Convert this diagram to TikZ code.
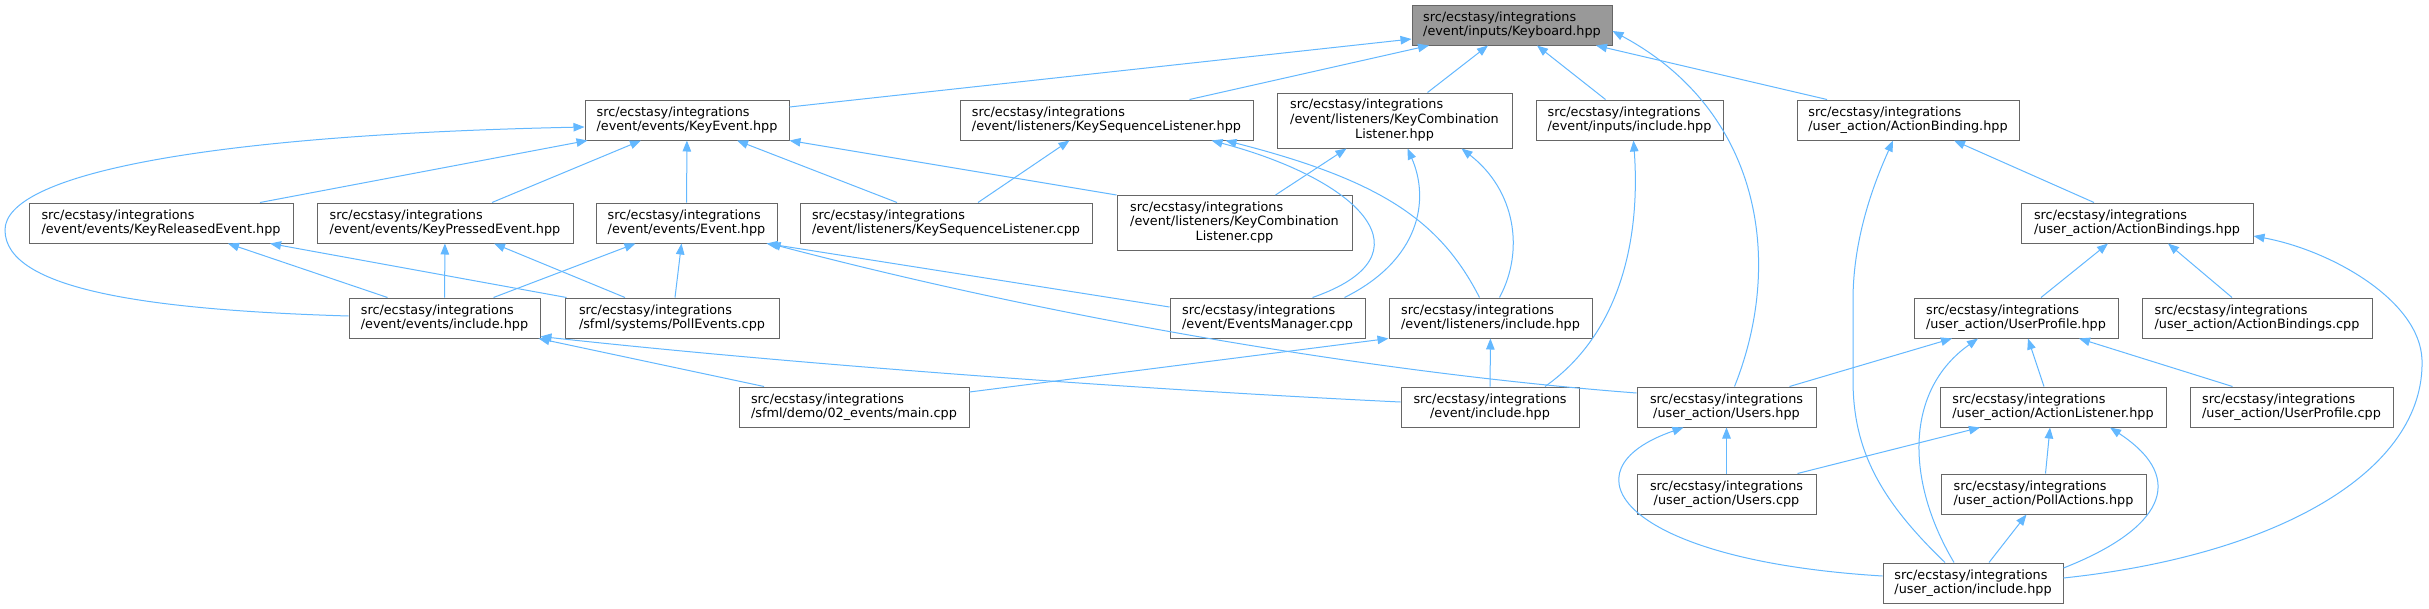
\documentclass[tikz,border=0pt]{standalone}
\usepackage{fontspec}
\setmainfont{DejaVu Sans}
\usetikzlibrary{arrows.meta}
\definecolor{boxline}{HTML}{666666}
\definecolor{kbfill}{HTML}{999999}
\definecolor{depblue}{HTML}{63B8FF}
\newcommand{\graphfont}{\fontsize{12.8}{14.6}\selectfont}
\newcommand{\lastc}[2]{\begin{tabular}{@{}l@{}}#1\\\multicolumn{1}{@{}c@{}}{#2}\end{tabular}}
\tikzset{
  file/.style={draw=boxline, fill=white, line width=1pt, minimum height=40pt,
    inner xsep=10pt, inner ysep=2pt, align=left, font=\graphfont},
  current/.style={file, fill=kbfill},
  tall/.style={minimum height=55pt},
  dep/.style={draw=depblue, line width=1pt, -{Triangle[length=11pt,width=8.5pt]}}
}
\begin{document}
\begin{tikzpicture}[x=1pt,y=-1pt]
\fill[white] (0,0) rectangle (2429,608);

\node[current, minimum width=200pt] (kbd) at (1512,25) {src/ecstasy/integrations\\/event/inputs/Keyboard.hpp};

\node[file, minimum width=204pt] (kevt) at (687,120) {src/ecstasy/integrations\\/event/events/KeyEvent.hpp};
\node[file, minimum width=293pt] (kseqh) at (1106.5,120) {src/ecstasy/integrations\\/event/listeners/KeySequenceListener.hpp};
\node[file, tall, minimum width=235pt] (kcombh) at (1394.5,120.5) {\lastc{src/ecstasy/integrations\\/event/listeners/KeyCombination}{Listener.hpp}};
\node[file, minimum width=187pt] (incin) at (1629.5,120) {src/ecstasy/integrations\\/event/inputs/include.hpp};
\node[file, minimum width=222pt] (abind) at (1908,120) {src/ecstasy/integrations\\/user\_action/ActionBinding.hpp};

\node[file, minimum width=264pt] (krel) at (161,223) {src/ecstasy/integrations\\/event/events/KeyReleasedEvent.hpp};
\node[file, minimum width=256pt] (kpress) at (445,223) {src/ecstasy/integrations\\/event/events/KeyPressedEvent.hpp};
\node[file, minimum width=181pt] (evt) at (686.5,223) {src/ecstasy/integrations\\/event/events/Event.hpp};
\node[file, minimum width=292pt] (kseqc) at (946,223) {src/ecstasy/integrations\\/event/listeners/KeySequenceListener.cpp};
\node[file, tall, minimum width=235pt] (kcombc) at (1234.5,223) {\lastc{src/ecstasy/integrations\\/event/listeners/KeyCombination}{Listener.cpp}};
\node[file, minimum width=232pt] (abinds) at (2137,223) {src/ecstasy/integrations\\/user\_action/ActionBindings.hpp};

\node[file, minimum width=191pt] (incev) at (444.5,318) {src/ecstasy/integrations\\/event/events/include.hpp};
\node[file, minimum width=214pt] (pollev) at (672,318) {src/ecstasy/integrations\\/sfml/systems/PollEvents.cpp};
\node[file, minimum width=195pt] (evmgr) at (1267.5,318) {src/ecstasy/integrations\\/event/EventsManager.cpp};
\node[file, minimum width=203pt] (incli) at (1490.5,318) {src/ecstasy/integrations\\/event/listeners/include.hpp};
\node[file, minimum width=204pt] (uprof) at (2016,318) {src/ecstasy/integrations\\/user\_action/UserProfile.hpp};
\node[file, minimum width=230pt] (abindc) at (2257,318) {src/ecstasy/integrations\\/user\_action/ActionBindings.cpp};

\node[file, minimum width=230pt] (demo) at (854,407) {src/ecstasy/integrations\\/sfml/demo/02\_events/main.cpp};
\node[file, align=center, minimum width=178pt] (ince) at (1490,407) {src/ecstasy/integrations\\/event/include.hpp};
\node[file, align=center, minimum width=179pt] (users) at (1726.5,407) {src/ecstasy/integrations\\/user\_action/Users.hpp};
\node[file, minimum width=226pt] (alist) at (2053,407) {src/ecstasy/integrations\\/user\_action/ActionListener.hpp};
\node[file, minimum width=203pt] (uprofc) at (2291.5,407) {src/ecstasy/integrations\\/user\_action/UserProfile.cpp};

\node[file, align=center, minimum width=179pt] (usersc) at (1726.5,494) {src/ecstasy/integrations\\/user\_action/Users.cpp};
\node[file, minimum width=205pt] (pollac) at (2043.5,494) {src/ecstasy/integrations\\/user\_action/PollActions.hpp};

\node[file, minimum width=180pt] (incua) at (1973,583) {src/ecstasy/integrations\\/user\_action/include.hpp};

\draw[dep] ([yshift=13pt]kevt.east) -- ([yshift=-14pt]kbd.west);
\draw[dep] ([xshift=83pt]kseqh.north) -- ([xshift=-83pt]kbd.south);
\draw[dep] ([xshift=33pt]kcombh.north) -- ([xshift=-24pt]kbd.south);
\draw[dep] ([xshift=-24pt]incin.north) -- ([xshift=25pt]kbd.south);
\draw[dep] ([xshift=-81pt]abind.north) -- ([xshift=84pt]kbd.south);
\draw[dep] ([xshift=8pt]users.north) .. controls (1785,260) and (1760,110) .. ([yshift=-6pt]kbd.east);

\draw[dep] ([xshift=99pt]krel.north) -- ([xshift=3pt]kevt.south west);
\draw[dep] ([xshift=47pt]kpress.north) -- ([xshift=-46pt]kevt.south);
\draw[dep] (evt) -- (kevt);
\draw[dep] ([xshift=-49pt]kseqc.north) -- ([xshift=50pt]kevt.south);
\draw[dep] (kcombc.north west) -- (kevt.south east);
\draw[dep] ([yshift=2pt]incev.west) .. controls (150,310) and (5,290) .. (5,230)
  .. controls (5,175) and (200,135) .. ([yshift=-7pt]kevt.west);

\draw[dep] ([xshift=-57pt]incev.north) -- ([xshift=67pt]krel.south);
\draw[dep] ([xshift=2pt]pollev.north west) -- ([xshift=109pt]krel.south);
\draw[dep] (incev) -- (kpress);
\draw[dep] ([xshift=-47pt]pollev.north) -- ([xshift=49pt]kpress.south);
\draw[dep] ([xshift=49pt]incev.north) -- ([xshift=-51pt]evt.south);
\draw[dep] ([xshift=3pt]pollev.north) -- ([xshift=-5pt]evt.south);
\draw[dep] ([yshift=11pt]evmgr.west) -- ([xshift=-11pt]evt.south east);
\draw[dep] ([yshift=14pt]users.west) .. controls (1400,375) and (1080,325) .. ([xshift=-8pt]evt.south east);

\draw[dep] ([xshift=32pt]kseqc.north) -- ([xshift=-37pt]kseqh.south);
\draw[dep] ([xshift=45pt]evmgr.north) .. controls (1435,255) and (1360,180) .. ([xshift=105pt]kseqh.south);
\draw[dep] ([xshift=-11pt]incli.north) .. controls (1440,220) and (1380,180) .. ([xshift=119pt]kseqh.south);
\draw[dep] ([xshift=41pt]kcombc.north) -- ([xshift=-48pt]kcombh.south);
\draw[dep] ([xshift=77pt]evmgr.north) .. controls (1420,260) and (1430,200) .. ([xshift=13pt]kcombh.south);
\draw[dep] ([xshift=9pt]incli.north) .. controls (1525,250) and (1515,190) .. ([xshift=67pt]kcombh.south);
\draw[dep] ([xshift=55pt]ince.north) .. controls (1625,330) and (1640,230) .. ([xshift=4pt]incin.south);

\draw[dep] ([xshift=-43pt]abinds.north) -- ([xshift=46pt]abind.south);
\draw[dep] ([xshift=-28pt]incua.north) .. controls (1880,500) and (1853,450) .. (1853,380) -- (1853,300)
  .. controls (1853,230) and (1880,170) .. ([xshift=-15pt]abind.south);
\draw[dep] ([xshift=25pt]uprof.north) -- ([xshift=-29pt]abinds.south);
\draw[dep] ([xshift=-25pt]abindc.north) -- ([xshift=31pt]abinds.south);
\draw[dep] ([yshift=5pt]incua.east) .. controls (2280,555) and (2425,470) .. (2422,360)
  .. controls (2420,300) and (2330,250) .. ([yshift=-13pt]abinds.east);

\draw[dep] ([xshift=63pt]users.north) -- ([xshift=-64pt]uprof.south);
\draw[dep] ([xshift=-19pt]incua.north) .. controls (1905,480) and (1905,390) .. ([xshift=-38pt]uprof.south);
\draw[dep] ([xshift=-9pt]alist.north) -- ([xshift=12pt]uprof.south);
\draw[dep] ([xshift=-59pt]uprofc.north) -- ([xshift=63pt]uprof.south);

\draw[dep] (usersc) -- (users);
\draw[dep] ([yshift=7pt]incua.west) .. controls (1620,560) and (1560,470) .. ([xshift=-43pt]users.south);
\draw[dep] ([xshift=71pt]usersc.north) -- ([xshift=-73pt]alist.south);
\draw[dep] ([xshift=2pt]pollac.north) -- ([xshift=-3pt]alist.south);
\draw[dep] ([yshift=15pt]incua.east) .. controls (2160,530) and (2190,480) .. ([xshift=57pt]alist.south);
\draw[dep] ([xshift=16pt]incua.north) -- ([xshift=-17pt]pollac.south);

\draw[dep] ([xshift=-90pt]demo.north) -- ([xshift=-2pt]incev.south east);
\draw[dep] ([yshift=5pt]ince.west) .. controls (1150,390) and (800,365) .. ([yshift=2pt]incev.south east);
\draw[dep] ([yshift=15pt]demo.east) -- (incli.south west);
\draw[dep] (ince) -- (incli);
\end{tikzpicture}
\end{document}
